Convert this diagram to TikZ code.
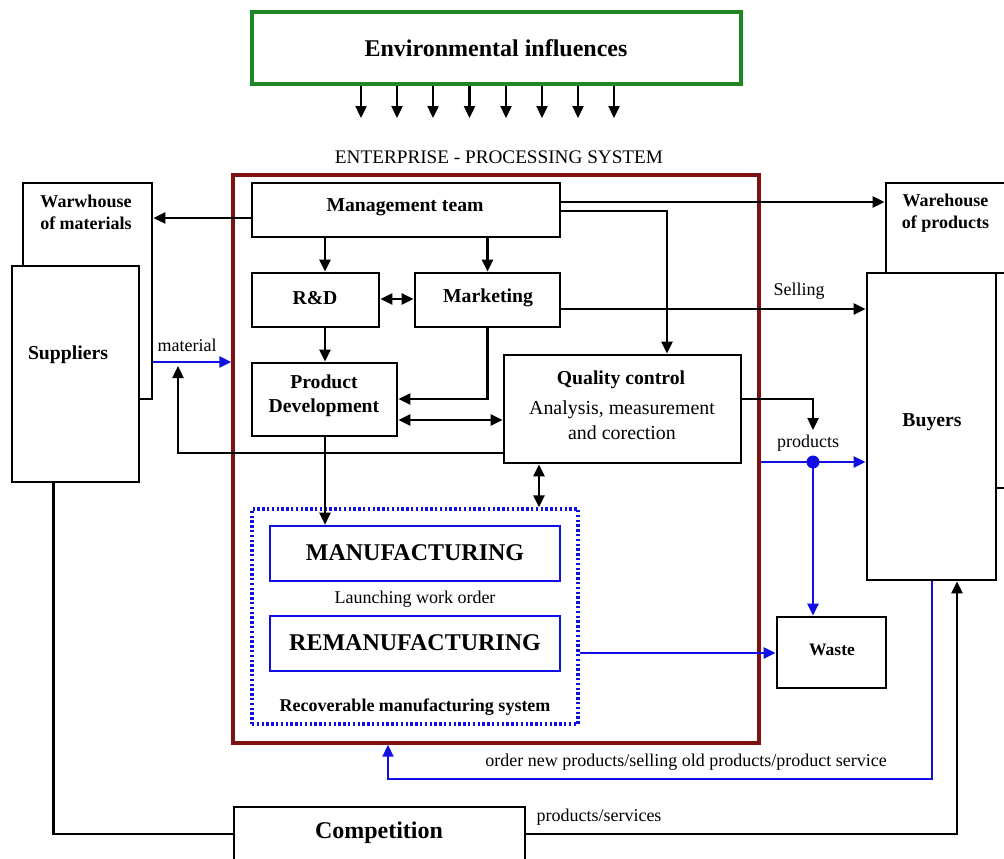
\documentclass[tikz,border=0pt]{standalone}
\usepackage{fontspec}
\setmainfont{Liberation Serif}
\usetikzlibrary{arrows.meta}
\definecolor{envgreen}{RGB}{30,135,35}
\definecolor{entred}{RGB}{130,18,18}
\definecolor{myblue}{RGB}{15,15,230}
\begin{document}
\begin{tikzpicture}[x=1pt,y=-1pt,
  box/.style={draw=black, line width=2.8pt, fill=white, inner sep=0pt, rectangle},
  bluebox/.style={draw=myblue, line width=2.6pt, fill=white, inner sep=0pt, rectangle},
  lbl/.style={inner sep=0pt, align=center, font=\fontsize{18}{21.5}\selectfont},
  blbl/.style={inner sep=0pt, align=center, font=\fontsize{19.7}{24}\selectfont\bfseries},
  sblbl/.style={inner sep=0pt, align=center, font=\fontsize{18}{21.5}\selectfont\bfseries},
  biglbl/.style={inner sep=0pt, align=center, font=\fontsize{24}{28}\selectfont\bfseries},
  conn/.style={line width=2.4pt},
  tip/.tip={Triangle[length=12pt,width=11pt]},
  arr/.style={conn, -tip},
  darr/.style={conn, tip-tip},
  barr/.style={draw=myblue, line width=2.8pt, -tip},
]
\path[use as bounding box] (0,0) rectangle (1004,859);
\clip (0,0) rectangle (1004,859);
\fill[white] (0,0) rectangle (1004,859);

% enterprise frame
\node[draw=entred, line width=3.4pt, inner sep=0pt, minimum width=526pt, minimum height=568pt] (red) at (496,459) {};

% environment
\node[draw=envgreen, line width=3.2pt, fill=white, inner sep=0pt, minimum width=489pt, minimum height=72pt] (env) at (496.5,48) {};
\node[biglbl] (envT) at (496,48) {Environmental influences};
\foreach \x [count=\i] in {361,397,433,469.5,506,542,578,614}{
  \coordinate (e\i) at (\x,118);
  \draw[arr] (env.south -| e\i) -- (e\i);
}
\node[inner sep=0pt, font=\fontsize{19.2}{22}\selectfont] (entT) at (499,157) {ENTERPRISE - PROCESSING SYSTEM};

% left side
\node[box, minimum width=129pt, minimum height=216pt] (whm) at (87.5,291) {};
\node[sblbl] (whmT) at (86,212.5) {Warwhouse\\of materials};
\node[box, minimum width=127pt, minimum height=216pt] (sup) at (75.5,374) {};
\node[blbl] (supT) at (68,355) {Suppliers};

% right side
\node[box, minimum width=154pt, minimum height=90pt] (whp) at (963,228) {};
\node[sblbl] (whpT) at (945.5,213) {Warehouse\\of products};
\node[box, minimum width=129pt, minimum height=307pt] (buy) at (931.5,426.5) {};
\node[blbl] (buyT) at (932,422) {Buyers};
\coordinate (redge) at (1010,488);
\draw[conn] (buy.east |- redge) -- (redge);

% inner boxes
\node[box, minimum width=308pt, minimum height=54pt] (mgmt) at (406,210) {};
\node[blbl] (mgmtT) at (405,207) {Management team};
\node[box, minimum width=127pt, minimum height=54pt] (rd) at (315.5,300) {};
\node[blbl] (rdT) at (315,298) {R\&D};
\node[box, minimum width=145pt, minimum height=54pt] (mkt) at (487.5,300) {};
\node[blbl] (mktT) at (488,298) {Marketing};
\node[box, minimum width=145pt, minimum height=73pt] (pd) at (324.5,399.5) {};
\node[blbl] (pdT) at (324,396) {Product\\Development};
\node[box, minimum width=237pt, minimum height=108pt] (qc) at (622.5,409) {};
\node[blbl] (qcT) at (621,380) {Quality control};
\node[inner sep=0pt, align=center, font=\fontsize{19.9}{25.5}\selectfont] (qcT2) at (622,420) {Analysis, measurement\\and corection};

% recoverable manufacturing system
\node[draw=myblue, line width=3.4pt, dash pattern=on 2.4pt off 2.4pt, fill=white, inner sep=0pt, minimum width=326pt, minimum height=215pt] (rms) at (415,616.5) {};
\node[bluebox, minimum width=290pt, minimum height=55pt] (manu) at (415,553.5) {};
\node[biglbl] (manuT) at (415,553) {MANUFACTURING};
\node[lbl] (lwo) at (415,599) {Launching work order};
\node[bluebox, minimum width=290pt, minimum height=55pt] (reman) at (415,643.5) {};
\node[biglbl] (remanT) at (415,643) {REMANUFACTURING};
\node[sblbl] (rmsT) at (415,707) {Recoverable manufacturing system};

% waste and competition
\node[box, minimum width=109pt, minimum height=71pt] (waste) at (831.5,652.5) {};
\node[inner sep=0pt, font=\fontsize{17.5}{20}\selectfont\bfseries] (wasteT) at (832,650) {Waste};
\node[box, minimum width=291pt, minimum height=90pt] (comp) at (379.5,852) {};
\node[biglbl] (compT) at (379,833) {Competition};

% connectors inside
\draw[arr] (mgmt.west |- 0,218) -- (whm.east |- 0,218);
\draw[arr] (mgmt.south -| 325,0) -- (rd.north -| 325,0);
\draw[arr] (mkt.north |- mgmt.south) -- (mkt.north);
\draw[darr] (rd.east |- 0,299) -- (mkt.west |- 0,299);
\draw[arr] (rd.south -| 325,0) -- (pd.north -| 325,0);
\draw[arr] (mkt.south) |- (pd.east |- 0,399);
\draw[darr] (pd.east |- 0,420) -- (qc.west |- 0,420);
\draw[arr] (mgmt.east |- 0,202) -- (whp.west |- 0,202);
\draw[arr] (mgmt.east |- 0,211) -| (qc.north -| 667,0);
\draw[arr] (mkt.east |- 0,309) -- (buy.west |- 0,309);
\node[lbl] (sellT) at (799,291) {Selling};
\coordinate (ptip) at (813,430);
\draw[arr] (qc.east |- 0,399) -| (ptip);
\node[lbl] (prodT) at (808,443) {products};
\coordinate (dot) at (813,462);
\draw[barr] (red.east |- dot) -- (buy.west |- dot);
\draw[barr] (dot) -- (waste.north -| dot);
\fill[myblue] (dot) circle (6.5pt);
\coordinate (mtip) at (178,366);
\draw[arr] (qc.west |- 0,453) -| (mtip);
\draw[barr] (whm.east |- 0,362) -- (red.west |- 0,362);
\node[lbl] (matT) at (187,345) {material};
\draw[arr] (pd.south -| 325,0) -- (manu.north -| 325,0);
\draw[darr] (qc.south -| 539,0) -- (rms.north -| 539,0);
\draw[barr] (rms.east |- 0,653) -- (waste.west |- 0,653);

% outer loops
\draw[draw=myblue, line width=2pt, -tip] (buy.south -| 932,0) -- (932,779) -| (red.south -| 388,0);
\node[lbl] (orderT) at (686,762) {order new products/selling old products/product service};
\draw[conn] (sup.south -| 53.6,0) |- (comp.west |- 0,834);
\draw[arr] (comp.east |- 0,834) -| (buy.south -| 957,0);
\node[lbl] (psT) at (599,817) {products/services};
\end{tikzpicture}
\end{document}
